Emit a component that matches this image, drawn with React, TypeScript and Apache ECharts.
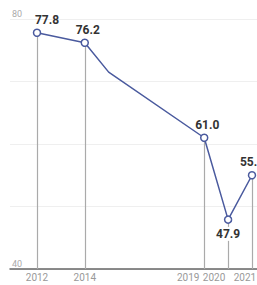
import React, { useEffect, useRef } from "react";
import * as echarts from "echarts";

const years = [2012, 2014, 2015, 2019, 2020, 2021];
const values = [77.8, 76.2, 71.5, 61.0, 47.9, 55.0];
const markedYears = [2012, 2014, 2019, 2020, 2021];
const belowLabelYears = [2020];
const xTickLabels = [2012, 2014, 2019, 2020, 2021];
const yTickLabels = [40, 80];
const yMin = 40;
const yMax = 80;

const labelShift: Record<number, number> = { 2012: 10, 2014: 3, 2019: 3, 2020: 0, 2021: 0 };
const xLabelPad: Record<number, number> = { 2012: 0, 2014: 0, 2019: 32, 2020: 28, 2021: 14 };

const LINE = "#4a5a9e";

export default function App() {
  const ref = useRef<HTMLDivElement>(null);
  useEffect(() => {
    if (!ref.current) return;
    const chart = echarts.init(ref.current, null, { renderer: "svg" });
    const seriesData = years.map((y, i) => {
      const marked = markedYears.includes(y);
      const below = belowLabelYears.includes(y);
      return {
        value: [y, values[i]],
        symbol: marked ? "circle" : "none",
        label: marked
          ? {
              show: true,
              position: below ? "bottom" : "top",
              distance: 3,
              offset: [labelShift[y] || 0, 0],
              backgroundColor: below ? "#ffffff" : "transparent",
              padding: below ? [1, 0, 1, 0] : 0,
            }
          : { show: false },
      };
    });
    const dropLines = years
      .map((y, i) => ({ y, v: values[i] }))
      .filter((p) => markedYears.includes(p.y))
      .map((p) => [{ coord: [p.y, p.v] }, { coord: [p.y, yMin] }]);

    chart.setOption({
      animation: false,
      grid: {
        left: 10,
        right: 0,
        top: 19,
        bottom: 16,
        containLabel: false,
        outerBoundsMode: "none",
      },
      xAxis: {
        type: "value",
        min: 2010.87,
        max: 2021.21,
        axisLine: { show: true, lineStyle: { color: "#666", width: 1.5 } },
        axisTick: { show: false },
        splitLine: { show: false },
        axisLabel: {
          customValues: xTickLabels,
          margin: 3,
          formatter: (v: number) => `{y${v}|${v}}`,
          rich: Object.fromEntries(
            xTickLabels.map((v) => [
              `y${v}`,
              {
                fontSize: 10,
                color: "#999",
                fontFamily: "Roboto",
                padding: [0, xLabelPad[v] || 0, 0, 0],
              },
            ])
          ),
        },
      },
      yAxis: {
        type: "value",
        min: yMin,
        max: yMax,
        interval: 10,
        axisLine: { show: false },
        axisTick: { show: false },
        splitLine: { show: true, lineStyle: { color: "#efefef", width: 1 } },
        axisLabel: {
          inside: true,
          margin: 2,
          verticalAlign: "bottom",
          padding: [0, 0, 1, 0],
          fontSize: 9,
          color: "#aaa",
          fontFamily: "Roboto",
          formatter: (v: number) => (yTickLabels.includes(v) ? String(v) : ""),
        },
      },
      series: [
        {
          type: "line",
          data: seriesData,
          symbolSize: 7,
          itemStyle: { color: "#ffffff", borderColor: LINE, borderWidth: 1.5 },
          lineStyle: { color: LINE, width: 1.5 },
          label: {
            fontSize: 12,
            fontWeight: "bold",
            color: "#333",
            fontFamily: "Roboto",
            formatter: (p: any) => p.value[1].toFixed(1),
          },
          markLine: {
            silent: true,
            z: 1,
            symbol: ["none", "none"],
            label: { show: false },
            lineStyle: { color: "#aaaaaa", width: 1.2, type: "solid" },
            data: dropLines,
          },
          z: 3,
        },
      ],
    });
    return () => chart.dispose();
  }, []);
  return (
    <div
      ref={ref}
      style={{ position: "fixed", left: 0, top: 0, width: 257, height: 285, background: "#fff" }}
    />
  );
}
